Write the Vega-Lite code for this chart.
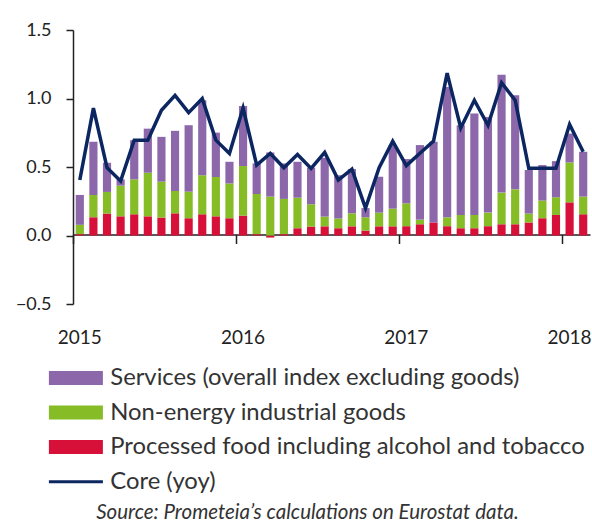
{
  "$schema": "https://vega.github.io/schema/vega-lite/v6.json",
  "width": 517,
  "height": 274,
  "autosize": {"type": "none"},
  "padding": {"left": 73, "top": 30, "right": 2, "bottom": 221},
  "background": "white",
  "config": {
    "view": {"stroke": null},
    "font": "Lato",
    "axis": {"domainColor": "#222", "tickColor": "#222", "labelColor": "#222", "labelFont": "Lato", "labelFontSize": 18, "domainWidth": 1.5, "tickWidth": 1.5, "grid": false, "title": null}
  },
  "title": {
    "text": "Source: Prometeia’s calculations on Eurostat data.",
    "orient": "bottom",
    "anchor": "middle",
    "font": "Lato",
    "fontStyle": "italic",
    "fontWeight": "normal",
    "fontSize": 20.5,
    "color": "#333",
    "offset": 9,
    "dx": -24
  },
  "data": {
    "values": [
      {"m": "2015-01", "food": 0.01, "goods": 0.068, "services": 0.218, "core": 0.405},
      {"m": "2015-02", "food": 0.133, "goods": 0.163, "services": 0.388, "core": 0.93},
      {"m": "2015-03", "food": 0.16, "goods": 0.158, "services": 0.213, "core": 0.495},
      {"m": "2015-04", "food": 0.14, "goods": 0.224, "services": 0.046, "core": 0.398},
      {"m": "2015-05", "food": 0.155, "goods": 0.255, "services": 0.286, "core": 0.696},
      {"m": "2015-06", "food": 0.14, "goods": 0.318, "services": 0.322, "core": 0.696},
      {"m": "2015-07", "food": 0.131, "goods": 0.262, "services": 0.327, "core": 0.914},
      {"m": "2015-08", "food": 0.162, "goods": 0.163, "services": 0.439, "core": 1.023},
      {"m": "2015-09", "food": 0.126, "goods": 0.194, "services": 0.485, "core": 0.897},
      {"m": "2015-10", "food": 0.155, "goods": 0.285, "services": 0.547, "core": 0.999},
      {"m": "2015-11", "food": 0.14, "goods": 0.287, "services": 0.324, "core": 0.696},
      {"m": "2015-12", "food": 0.126, "goods": 0.254, "services": 0.158, "core": 0.599},
      {"m": "2016-01", "food": 0.145, "goods": 0.362, "services": 0.438, "core": 0.93},
      {"m": "2016-02", "food": 0.01, "goods": 0.293, "services": 0.223, "core": 0.514},
      {"m": "2016-03", "food": -0.015, "goods": 0.284, "services": 0.322, "core": 0.599},
      {"m": "2016-04", "food": 0.01, "goods": 0.257, "services": 0.259, "core": 0.495},
      {"m": "2016-05", "food": 0.053, "goods": 0.223, "services": 0.262, "core": 0.591},
      {"m": "2016-06", "food": 0.065, "goods": 0.163, "services": 0.267, "core": 0.49},
      {"m": "2016-07", "food": 0.067, "goods": 0.071, "services": 0.429, "core": 0.606},
      {"m": "2016-08", "food": 0.053, "goods": 0.071, "services": 0.316, "core": 0.405},
      {"m": "2016-09", "food": 0.067, "goods": 0.095, "services": 0.323, "core": 0.485},
      {"m": "2016-10", "food": 0.036, "goods": 0.097, "services": 0.067, "core": 0.2},
      {"m": "2016-11", "food": 0.067, "goods": 0.1, "services": 0.262, "core": 0.495},
      {"m": "2016-12", "food": 0.067, "goods": 0.129, "services": 0.464, "core": 0.689},
      {"m": "2017-01", "food": 0.068, "goods": 0.167, "services": 0.323, "core": 0.51},
      {"m": "2017-02", "food": 0.082, "goods": 0.034, "services": 0.544, "core": 0.6},
      {"m": "2017-03", "food": 0.095, "goods": 0.0, "services": 0.589, "core": 0.69},
      {"m": "2017-04", "food": 0.068, "goods": 0.065, "services": 0.951, "core": 1.185},
      {"m": "2017-05", "food": 0.053, "goods": 0.097, "services": 0.655, "core": 0.785},
      {"m": "2017-06", "food": 0.053, "goods": 0.097, "services": 0.74, "core": 0.987},
      {"m": "2017-07", "food": 0.068, "goods": 0.099, "services": 0.698, "core": 0.805},
      {"m": "2017-08", "food": 0.082, "goods": 0.231, "services": 0.86, "core": 1.115},
      {"m": "2017-09", "food": 0.082, "goods": 0.255, "services": 0.686, "core": 0.987},
      {"m": "2017-10", "food": 0.095, "goods": 0.065, "services": 0.318, "core": 0.49},
      {"m": "2017-11", "food": 0.126, "goods": 0.129, "services": 0.259, "core": 0.49},
      {"m": "2017-12", "food": 0.15, "goods": 0.129, "services": 0.264, "core": 0.49},
      {"m": "2018-01", "food": 0.242, "goods": 0.291, "services": 0.211, "core": 0.81},
      {"m": "2018-02", "food": 0.155, "goods": 0.129, "services": 0.327, "core": 0.611}
    ]
  },
  "encoding": {
    "x": {
      "field": "m",
      "type": "ordinal",
      "scale": {"paddingInner": 0.4, "paddingOuter": 0.2},
      "axis": {
        "values": ["2015-01", "2016-01", "2017-01", "2018-01"],
        "labelExpr": "slice(datum.value, 0, 4)",
        "bandPosition": -0.333,
        "offset": -69.5,
        "tickSize": 9,
        "labelPadding": 85,
        "labelOffset": 0,
        "labelFontSize": 19,
        "labelAngle": 0,
        "title": null
      }
    }
  },
  "layer": [
    {
      "transform": [{"fold": ["food", "goods", "services"], "as": ["series", "value"]}],
      "mark": {"type": "bar"},
      "encoding": {
        "y": {
          "field": "value",
          "type": "quantitative",
          "stack": "zero",
          "scale": {"domain": [-0.5, 1.5], "nice": false, "zero": false},
          "axis": {"values": [-0.5, 0, 0.5, 1, 1.5], "format": ".1f", "tickSize": 7, "labelPadding": 15, "title": null}
        },
        "color": {
          "field": "series",
          "type": "nominal",
          "scale": {"domain": ["services", "goods", "food", "core"], "range": ["#8c68ab", "#86bc25", "#d7103a", "#0b2660"]},
          "legend": {
            "title": null,
            "orient": "none",
            "legendX": -9,
            "legendY": 336,
            "direction": "vertical",
            "padding": 0,
            "symbolSize": 729,
            "labelFont": "Lato",
            "labelFontSize": 23.8,
            "labelColor": "#333",
            "labelOffset": 22.5,
            "labelLimit": 0,
            "rowPadding": 9.6,
            "values": ["services", "goods", "food", "core"],
            "labelExpr": "datum.value === 'services' ? 'Services (overall index excluding goods)' : datum.value === 'goods' ? 'Non-energy industrial goods' : datum.value === 'food' ? 'Processed food including alcohol and tobacco' : 'Core (yoy)'",
            "encode": {
              "symbols": {
                "update": {
                  "shape": {"signal": "datum.value === 'core' ? 'M-2,0L2,0' : 'M-2,-0.52L2,-0.52L2,0.52L-2,0.52Z'"},
                  "fill": {"signal": "datum.value === 'core' ? 'transparent' : scale('color', datum.value)"},
                  "stroke": {"signal": "datum.value === 'core' ? '#0b2660' : 'transparent'"},
                  "strokeWidth": {"signal": "datum.value === 'core' ? 3 : 0"},
                  "opacity": {"value": 1}
                }
              }
            }
          }
        },
        "order": {"field": "series", "sort": "ascending"}
      }
    },
    {
      "mark": {"type": "line", "strokeWidth": 3.5, "strokeJoin": "miter"},
      "encoding": {
        "y": {"field": "core", "type": "quantitative"},
        "color": {"datum": "core"}
      }
    }
  ]
}
